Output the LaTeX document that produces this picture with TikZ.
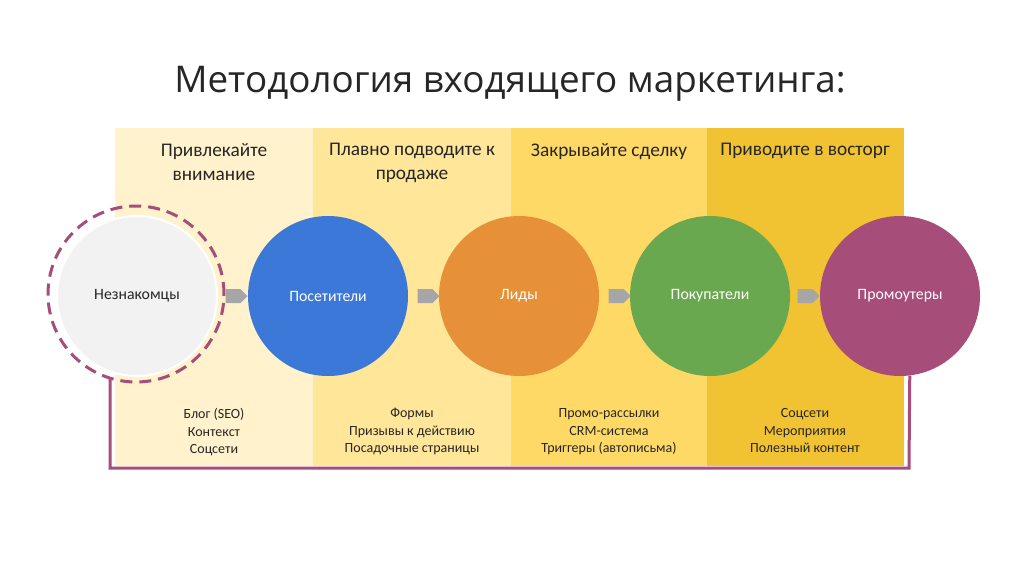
\documentclass[tikz,border=0pt]{standalone}
\usepackage{fontspec}
\setmainfont{Carlito}
\newfontfamily\titlefont{Open Sans}
\usetikzlibrary{shapes.symbols,backgrounds}

\definecolor{bandA}{HTML}{FFF2CC}
\definecolor{bandB}{HTML}{FFE699}
\definecolor{bandC}{HTML}{FFD966}
\definecolor{bandD}{HTML}{F1C232}
\definecolor{strgray}{HTML}{F2F2F2}
\definecolor{visblue}{HTML}{3C78D8}
\definecolor{leadorange}{HTML}{E69138}
\definecolor{buygreen}{HTML}{6AA84F}
\definecolor{plum}{HTML}{A64D79}
\definecolor{arrowgray}{HTML}{A6A6A6}
\definecolor{txt}{HTML}{262626}

\begin{document}
\begin{tikzpicture}[x=1pt,y=-1pt,
		stage/.style={circle,minimum size=160pt,inner sep=0pt,text=white,
			font=\fontsize{15.8}{18}\selectfont},
		chev/.style={signal,signal to=east,fill=arrowgray,inner sep=0pt,
			minimum width=22pt,minimum height=14pt},
		head/.style={anchor=north,align=center,text=txt,
			font=\fontsize{19.3}{24}\selectfont},
		tools/.style={anchor=north,align=center,text=txt,
			font=\fontsize{14}{17.5}\selectfont},
		frame/.style={draw=plum,line width=3pt}]
		\useasboundingbox (0,0) rectangle (1024,574);
		%
		\node[text=txt,font=\titlefont\fontsize{36.8}{42}\selectfont] (title) at (510,84) {Методология входящего маркетинга:};
		%
		\node[head] (hA) at (214,140) {Привлекайте\\внимание};
		\node[head] (hB) at (412,140) {Плавно подводите к\\продаже};
		\node[head] (hC) at (609,140) {Закрывайте сделку};
		\node[head] (hD) at (805,140) {Приводите в восторг};
		%
		\node[circle,minimum size=176pt,inner sep=0pt] (ring) at (136,294) {};
		\draw[plum,line width=3pt,dash pattern=on 12pt off 7pt] (ring.center) circle[radius=88pt];
		\node[stage,fill=strgray,draw=white,line width=2pt,text=txt] (strangers) at (137,296) {Незнакомцы};
		\node[stage,fill=visblue] (visitors) at (328,296) {Посетители};
		\node[stage,fill=leadorange] (leads) at (519,296) {Лиды};
		\node[stage,fill=buygreen] (buyers) at (710,296) {Покупатели};
		\node[stage,fill=plum] (promo) at (900,296) {Промоутеры};
		%
		\node[chev] (a1) at (233,296) {};
		\node[chev] (a2) at (425,296) {};
		\node[chev] (a3) at (616,296) {};
		\node[chev] (a4) at (805,296) {};
		%
		\node[tools] (tA) at (214,405) {Блог (SEO)\\Контекст\\Соцсети};
		\node[tools] (tB) at (412,405) {Формы\\Призывы к действию\\Посадочные страницы};
		\node[tools] (tC) at (609,405) {Промо-рассылки\\CRM-система\\Триггеры (автописьма)};
		\node[tools] (tD) at (805,405) {Соцсети\\Мероприятия\\Полезный контент};
		%
		\begin{pgfonlayer}{background}
			\fill[bandA] (115,128) rectangle (313,466);
			\fill[bandB] (313,128) rectangle (511,466);
			\fill[bandC] (511,128) rectangle (707,466);
			\fill[bandD] (707,128) rectangle (904,466);
			\coordinate (fl) at (110,468);
			\coordinate (fr) at (909,468);
			\draw[frame] (ring.-107) -- (fl) -- (fr) -- (promo.-83);
		\end{pgfonlayer}
	\end{tikzpicture}
\end{document}
